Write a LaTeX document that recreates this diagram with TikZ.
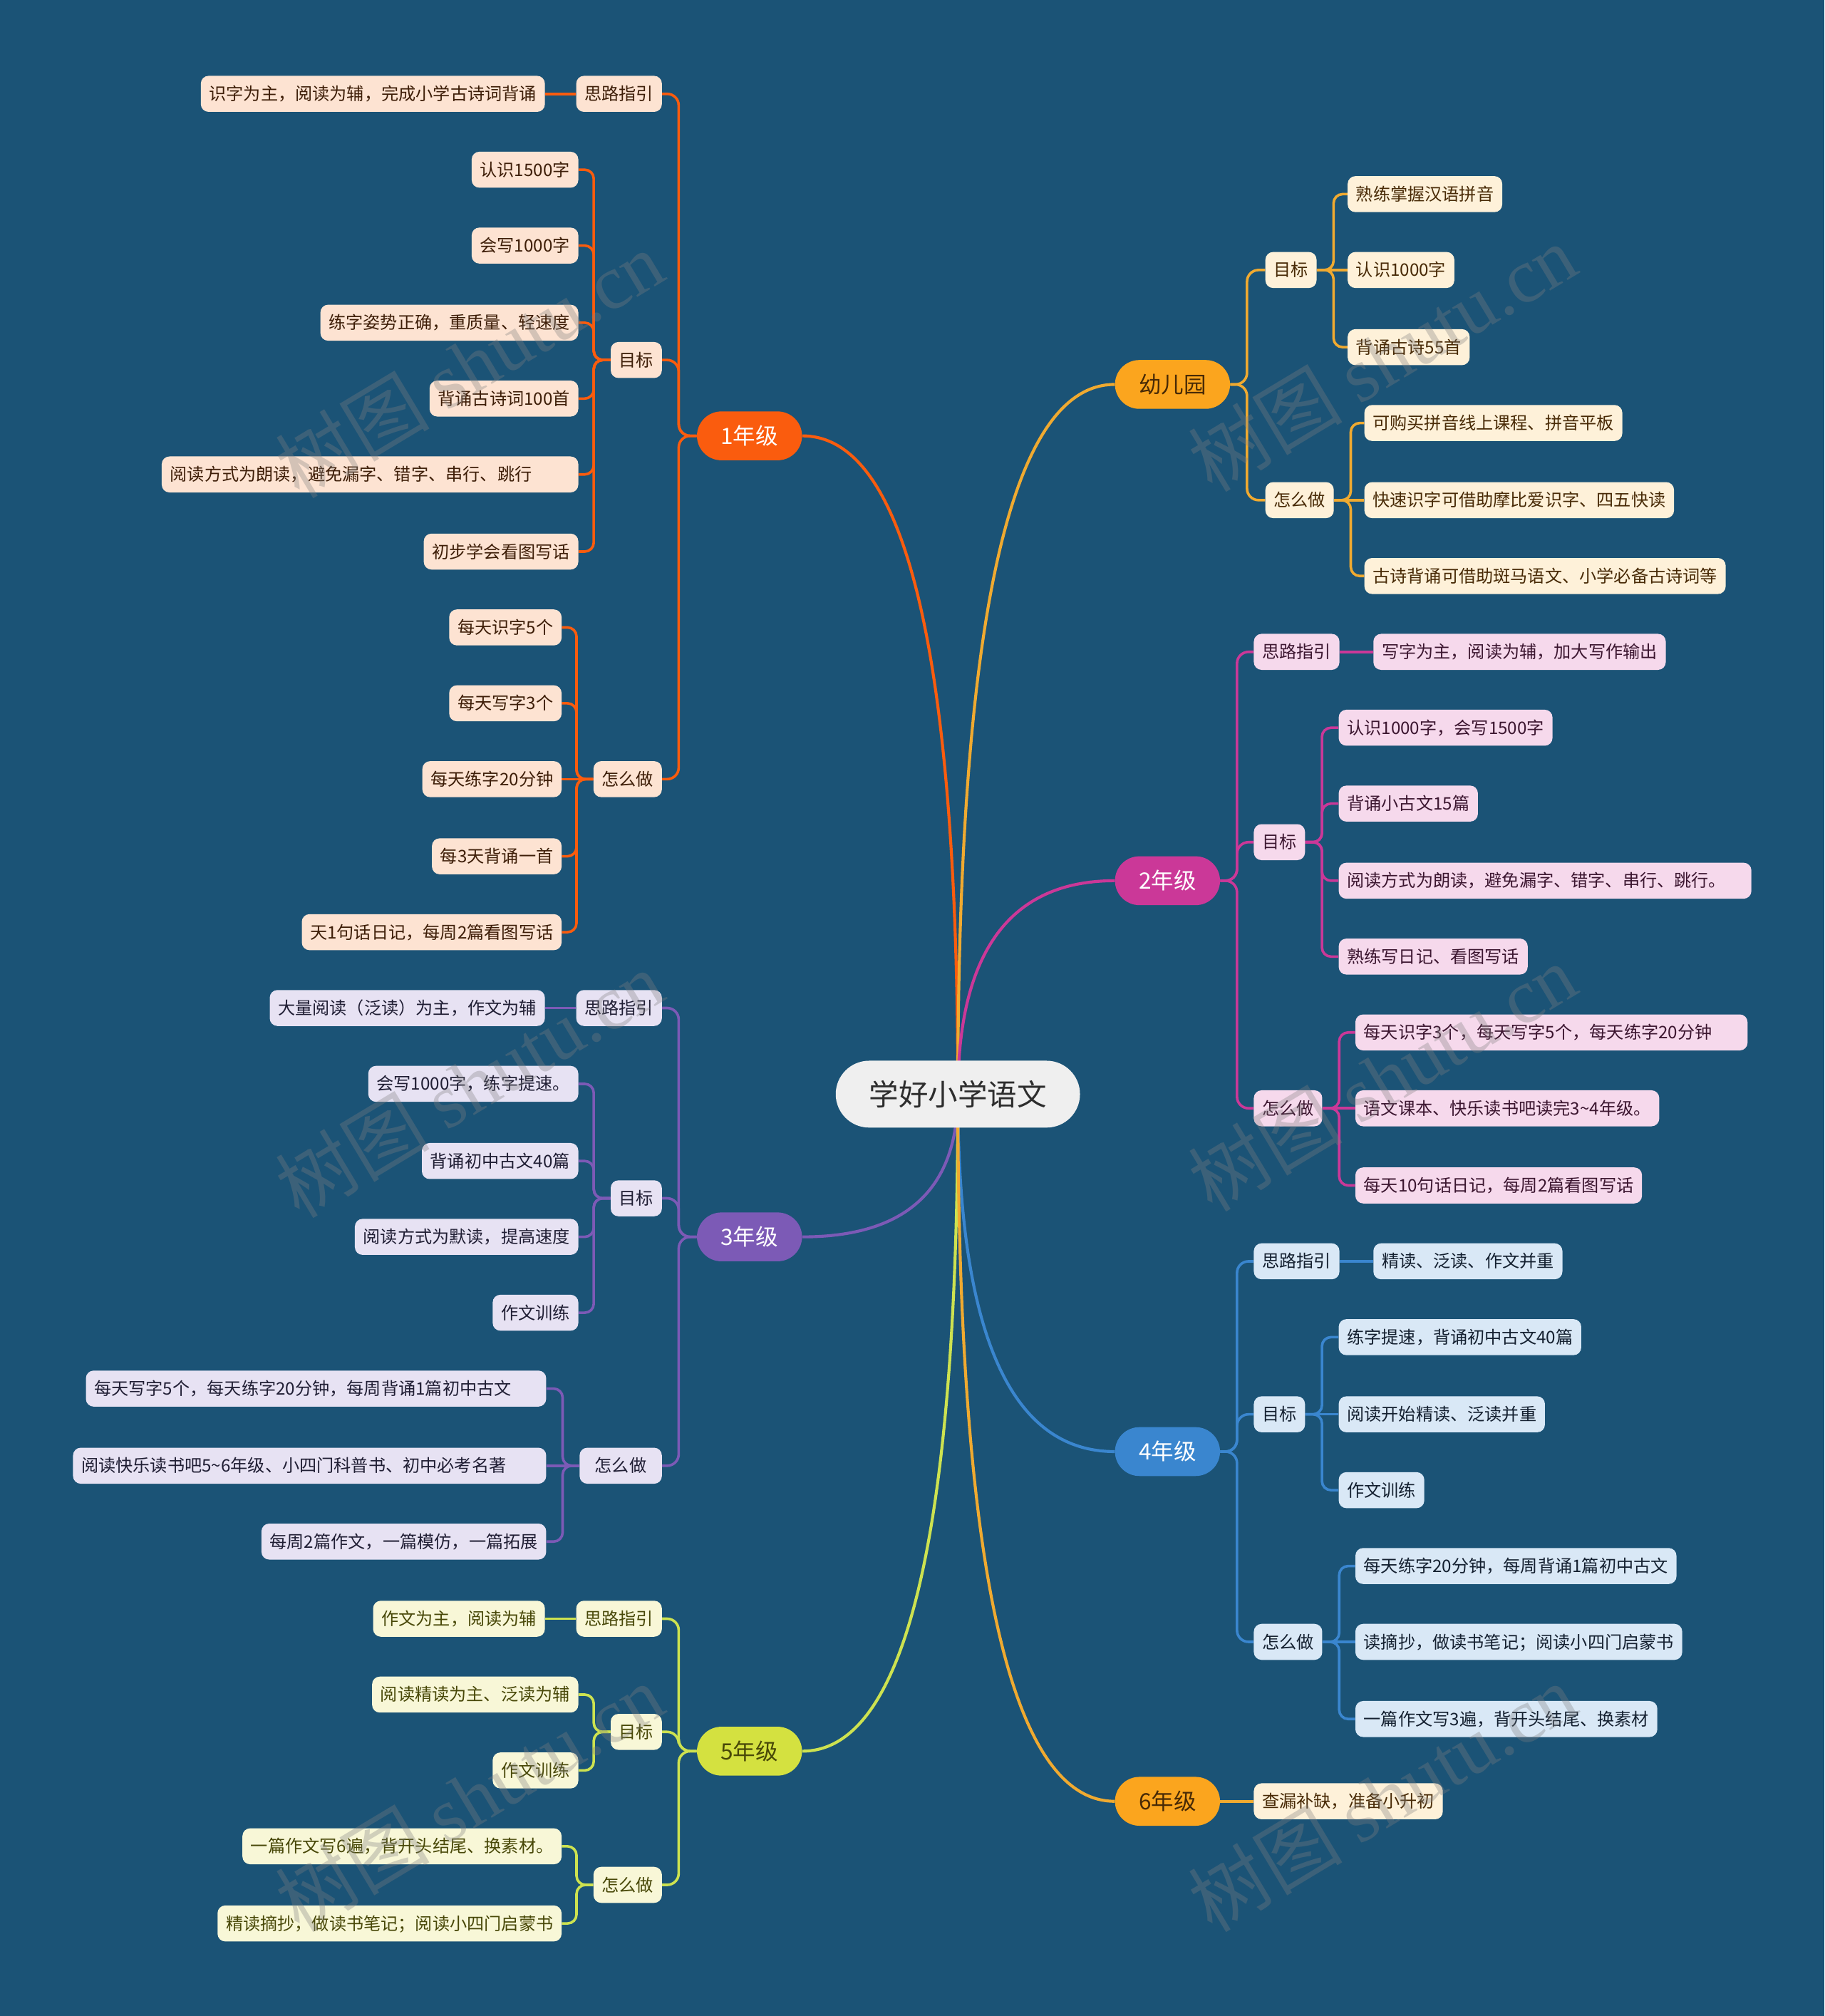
\documentclass[tikz,border=0pt]{standalone}
\usepackage{fontspec}
\setmainfont{Noto Sans CJK SC}
\newfontfamily\wmlatin{Liberation Serif}
\usetikzlibrary{calc,backgrounds}
\definecolor{bgc}{RGB}{27,83,118}
\definecolor{rootfill}{RGB}{239,239,239}
\definecolor{roottext}{RGB}{45,45,45}
\definecolor{cA}{RGB}{250,92,14}
\definecolor{fA}{RGB}{253,227,210}
\definecolor{tA}{RGB}{62,30,8}
\definecolor{cK}{RGB}{251,165,30}
\definecolor{kLn}{RGB}{240,170,48}
\definecolor{fK}{RGB}{254,241,217}
\definecolor{tK}{RGB}{72,42,6}
\definecolor{cB}{RGB}{203,56,152}
\definecolor{fB}{RGB}{246,217,236}
\definecolor{tB}{RGB}{60,22,48}
\definecolor{cC}{RGB}{124,90,182}
\definecolor{fC}{RGB}{231,226,243}
\definecolor{tC}{RGB}{32,30,52}
\definecolor{cD}{RGB}{58,134,207}
\definecolor{fD}{RGB}{217,232,246}
\definecolor{tD}{RGB}{20,32,48}
\definecolor{cE}{RGB}{212,225,64}
\definecolor{eLn}{RGB}{205,226,80}
\definecolor{fE}{RGB}{248,247,215}
\definecolor{tE}{RGB}{72,72,8}
\tikzset{
  root/.style={fill=rootfill, text=roottext, rounded corners=26pt, minimum height=52pt,
    inner xsep=26pt, inner ysep=0pt, text height=19pt, text depth=1.6pt,
    font=\fontsize{23}{27}\selectfont},
  grade/.style={rounded corners=19pt, minimum height=38pt, inner xsep=18.5pt, inner ysep=0pt,
    text height=14.5pt, text depth=1.2pt, font=\fontsize{17.5}{21}\selectfont},
  box/.style={rounded corners=6pt, minimum height=28pt, inner xsep=6.5pt, inner ysep=0pt,
    text height=11pt, text depth=1pt, font=\fontsize{13.4}{16}\selectfont},
  bA/.style={box, fill=fA, text=tA},
  bK/.style={box, fill=fK, text=tK},
  bB/.style={box, fill=fB, text=tB},
  bC/.style={box, fill=fC, text=tC},
  bD/.style={box, fill=fD, text=tD},
  bE/.style={box, fill=fE, text=tE},
  curve/.style={line width=2.3pt},
  link/.style={line width=2pt, rounded corners=9pt},
  sub/.style={line width=2pt, rounded corners=7pt},
  wm/.style={rotate=31, text=gray, text opacity=0.33, font=\fontsize{60}{70}\selectfont},
}
\begin{document}
\begin{tikzpicture}[x=1pt, y=-1pt]
\useasboundingbox (0,0) rectangle (1419,1568);
% root
\node[root] (root) at (745,851) {学好小学语文};
% 1年级
\node[grade, fill=cA, text=white, anchor=east] (g1) at (624,339) {1年级};
\node[bA, anchor=east] (s1) at (515,73) {思路指引};
\node[bA, anchor=east] (m1) at (515,280) {目标};
\node[bA, anchor=east] (z1) at (515,606) {怎么做};
\node[bA, anchor=east] (s1a) at (424,73) {识字为主，阅读为辅，完成小学古诗词背诵};
\node[bA, anchor=east] (m1a) at (450,132) {认识1500字};
\node[bA, anchor=east] (m1b) at (450,191) {会写1000字};
\node[bA, anchor=east] (m1c) at (450,251) {练字姿势正确，重质量、轻速度};
\node[bA, anchor=east] (m1d) at (450,310) {背诵古诗词100首};
\node[bA, anchor=east, text width=311pt, align=left] (m1e) at (450,369) {阅读方式为朗读，避免漏字、错字、串行、跳行};
\node[bA, anchor=east] (m1f) at (450,429) {初步学会看图写话};
\node[bA, anchor=east] (z1a) at (437,488) {每天识字5个};
\node[bA, anchor=east] (z1b) at (437,547) {每天写字3个};
\node[bA, anchor=east] (z1c) at (437,606) {每天练字20分钟};
\node[bA, anchor=east] (z1d) at (437,666) {每3天背诵一首};
\node[bA, anchor=east] (z1e) at (437,725) {天1句话日记，每周2篇看图写话};
% 3年级
\node[grade, fill=cC, text=white, anchor=east] (g3) at (624,962) {3年级};
\node[bC, anchor=east] (s3) at (515,784) {思路指引};
\node[bC, anchor=east] (m3) at (515,932) {目标};
\node[bC, anchor=east, minimum width=64pt] (z3) at (515,1140) {怎么做};
\node[bC, anchor=east] (s3a) at (424,784) {大量阅读（泛读）为主，作文为辅};
\node[bC, anchor=east] (m3a) at (450,843) {会写1000字，练字提速。};
\node[bC, anchor=east] (m3b) at (450,903) {背诵初中古文40篇};
\node[bC, anchor=east] (m3c) at (450,962) {阅读方式为默读，提高速度};
\node[bC, anchor=east] (m3d) at (450,1021) {作文训练};
\node[bC, anchor=east, text width=345pt, align=left] (z3a) at (425,1080) {每天写字5个，每天练字20分钟，每周背诵1篇初中古文};
\node[bC, anchor=east, text width=355pt, align=left] (z3b) at (425,1140) {阅读快乐读书吧5\textasciitilde6年级、小四门科普书、初中必考名著};
\node[bC, anchor=east] (z3c) at (425,1199) {每周2篇作文，一篇模仿，一篇拓展};
% 5年级
\node[grade, fill=cE, text=tE, anchor=east] (g5) at (624,1362) {5年级};
\node[bE, anchor=east] (s5) at (515,1259) {思路指引};
\node[bE, anchor=east] (m5) at (515,1347) {目标};
\node[bE, anchor=east] (z5) at (515,1466) {怎么做};
\node[bE, anchor=east] (s5a) at (424,1259) {作文为主，阅读为辅};
\node[bE, anchor=east] (m5a) at (450,1318) {阅读精读为主、泛读为辅};
\node[bE, anchor=east] (m5b) at (450,1377) {作文训练};
\node[bE, anchor=east] (z5a) at (437,1436) {一篇作文写6遍，背开头结尾、换素材。};
\node[bE, anchor=east] (z5b) at (437,1496) {精读摘抄，做读书笔记；阅读小四门启蒙书};
% 幼儿园
\node[grade, fill=cK, text=tK, anchor=west] (gk) at (867,299) {幼儿园};
\node[bK, anchor=west] (mk) at (984,210) {目标};
\node[bK, anchor=west] (zk) at (984,389) {怎么做};
\node[bK, anchor=west] (mka) at (1048,151) {熟练掌握汉语拼音};
\node[bK, anchor=west] (mkb) at (1048,210) {认识1000字};
\node[bK, anchor=west] (mkc) at (1048,270) {背诵古诗55首};
\node[bK, anchor=west] (zka) at (1061,329) {可购买拼音线上课程、拼音平板};
\node[bK, anchor=west] (zkb) at (1061,389) {快速识字可借助摩比爱识字、四五快读};
\node[bK, anchor=west] (zkc) at (1061,448) {古诗背诵可借助斑马语文、小学必备古诗词等};
% 2年级
\node[grade, fill=cB, text=white, anchor=west] (g2) at (867,685) {2年级};
\node[bB, anchor=west] (s2) at (975,507) {思路指引};
\node[bB, anchor=west] (m2) at (975,655) {目标};
\node[bB, anchor=west] (z2) at (975,862) {怎么做};
\node[bB, anchor=west] (s2a) at (1068,507) {写字为主，阅读为辅，加大写作输出};
\node[bB, anchor=west] (m2a) at (1041,566) {认识1000字，会写1500字};
\node[bB, anchor=west] (m2b) at (1041,625) {背诵小古文15篇};
\node[bB, anchor=west, text width=308pt, align=left] (m2c) at (1041,685) {阅读方式为朗读，避免漏字、错字、串行、跳行。};
\node[bB, anchor=west] (m2d) at (1041,744) {熟练写日记、看图写话};
\node[bB, anchor=west, text width=292pt, align=left] (z2a) at (1054,803) {每天识字3个，每天写字5个，每天练字20分钟};
\node[bB, anchor=west] (z2b) at (1054,862) {语文课本、快乐读书吧读完3\textasciitilde4年级。};
\node[bB, anchor=west] (z2c) at (1054,922) {每天10句话日记，每周2篇看图写话};
% 4年级
\node[grade, fill=cD, text=white, anchor=west] (g4) at (867,1129) {4年级};
\node[bD, anchor=west] (s4) at (975,981) {思路指引};
\node[bD, anchor=west] (m4) at (975,1100) {目标};
\node[bD, anchor=west] (z4) at (975,1277) {怎么做};
\node[bD, anchor=west] (s4a) at (1068,981) {精读、泛读、作文并重};
\node[bD, anchor=west] (m4a) at (1041,1040) {练字提速，背诵初中古文40篇};
\node[bD, anchor=west] (m4b) at (1041,1100) {阅读开始精读、泛读并重};
\node[bD, anchor=west] (m4c) at (1041,1159) {作文训练};
\node[bD, anchor=west] (z4a) at (1054,1218) {每天练字20分钟，每周背诵1篇初中古文};
\node[bD, anchor=west] (z4b) at (1054,1277) {读摘抄，做读书笔记；阅读小四门启蒙书};
\node[bD, anchor=west] (z4c) at (1054,1337) {一篇作文写3遍，背开头结尾、换素材};
% 6年级
\node[grade, fill=cK, text=tK, anchor=west] (g6) at (867,1401) {6年级};
\node[bK, anchor=west] (g6a) at (975,1401) {查漏补缺，准备小升初};

\begin{pgfonlayer}{background}
\fill[bgc] (0,0) rectangle (1419,1568);
% root to grades
\foreach \n/\c/\a in {g1/cA/east, g3/cC/east, g5/eLn/east, gk/kLn/west, g2/cB/west, g4/cD/west, g6/kLn/west}
  \draw[curve, draw=\c] (root.center) .. controls ($(root.center)!0.667!(root.center |- \n.\a)$)
    and ($(\n.\a)!0.667!(root.center |- \n.\a)$) .. (\n.\a);
% grade to level 2 (left)
\foreach \c in {s1,m1,z1} \draw[link, draw=cA] (g1.west) -- ++(-14,0) |- (\c.east);
\foreach \c in {s3,m3,z3} \draw[link, draw=cC] (g3.west) -- ++(-14,0) |- (\c.east);
\foreach \c in {s5,m5,z5} \draw[link, draw=eLn] (g5.west) -- ++(-14,0) |- (\c.east);
% grade to level 2 (right)
\foreach \c in {mk,zk} \draw[link, draw=kLn] (gk.east) -- ++(13,0) |- (\c.west);
\foreach \c in {s2,m2,z2} \draw[link, draw=cB] (g2.east) -- ++(13,0) |- (\c.west);
\foreach \c in {s4,m4,z4} \draw[link, draw=cD] (g4.east) -- ++(13,0) |- (\c.west);
\draw[link, draw=kLn] (g6.east) -- (g6a.west);
% level 2 to 3 (left)
\draw[sub, draw=cA] (s1.west) -- (s1a.east);
\foreach \c in {m1a,m1b,m1c,m1d,m1e,m1f} \draw[sub, draw=cA] (m1.west) -- ++(-13,0) |- (\c.east);
\foreach \c in {z1a,z1b,z1d,z1e} \draw[sub, draw=cA] (z1.west) -- ++(-13,0) |- (\c.east);
\draw[sub, draw=cA] (z1.west) -- (z1c.east);
\draw[sub, draw=cC] (s3.west) -- (s3a.east);
\foreach \c in {m3a,m3b,m3c,m3d} \draw[sub, draw=cC] (m3.west) -- ++(-13,0) |- (\c.east);
\foreach \c in {z3a,z3c} \draw[sub, draw=cC] (z3.west) -- ++(-13,0) |- (\c.east);
\draw[sub, draw=cC] (z3.west) -- (z3b.east);
\draw[sub, draw=eLn] (s5.west) -- (s5a.east);
\foreach \c in {m5a,m5b} \draw[sub, draw=eLn] (m5.west) -- ++(-13,0) |- (\c.east);
\foreach \c in {z5a,z5b} \draw[sub, draw=eLn] (z5.west) -- ++(-13,0) |- (\c.east);
% level 2 to 3 (right)
\foreach \c in {mka,mkc} \draw[sub, draw=kLn] (mk.east) -- ++(13,0) |- (\c.west);
\draw[sub, draw=kLn] (mk.east) -- (mkb.west);
\foreach \c in {zka,zkc} \draw[sub, draw=kLn] (zk.east) -- ++(13,0) |- (\c.west);
\draw[sub, draw=kLn] (zk.east) -- (zkb.west);
\draw[sub, draw=cB] (s2.east) -- (s2a.west);
\foreach \c in {m2a,m2b,m2c,m2d} \draw[sub, draw=cB] (m2.east) -- ++(13,0) |- (\c.west);
\foreach \c in {z2a,z2c} \draw[sub, draw=cB] (z2.east) -- ++(13,0) |- (\c.west);
\draw[sub, draw=cB] (z2.east) -- (z2b.west);
\draw[sub, draw=cD] (s4.east) -- (s4a.west);
\foreach \c in {m4a,m4c} \draw[sub, draw=cD] (m4.east) -- ++(13,0) |- (\c.west);
\draw[sub, draw=cD] (m4.east) -- (m4b.west);
\foreach \c in {z4a,z4c} \draw[sub, draw=cD] (z4.east) -- ++(13,0) |- (\c.west);
\draw[sub, draw=cD] (z4.east) -- (z4b.west);
\end{pgfonlayer}
% watermarks
\node[wm] (wm1) at (365,283) {树图 {\wmlatin shutu.cn}};
\node[wm] (wm2) at (1075,278) {树图 {\wmlatin shutu.cn}};
\node[wm] (wm3) at (365,843) {树图 {\wmlatin shutu.cn}};
\node[wm] (wm4) at (1075,838) {树图 {\wmlatin shutu.cn}};
\node[wm] (wm5) at (365,1398) {树图 {\wmlatin shutu.cn}};
\node[wm] (wm6) at (1075,1398) {树图 {\wmlatin shutu.cn}};
\end{tikzpicture}
\end{document}
